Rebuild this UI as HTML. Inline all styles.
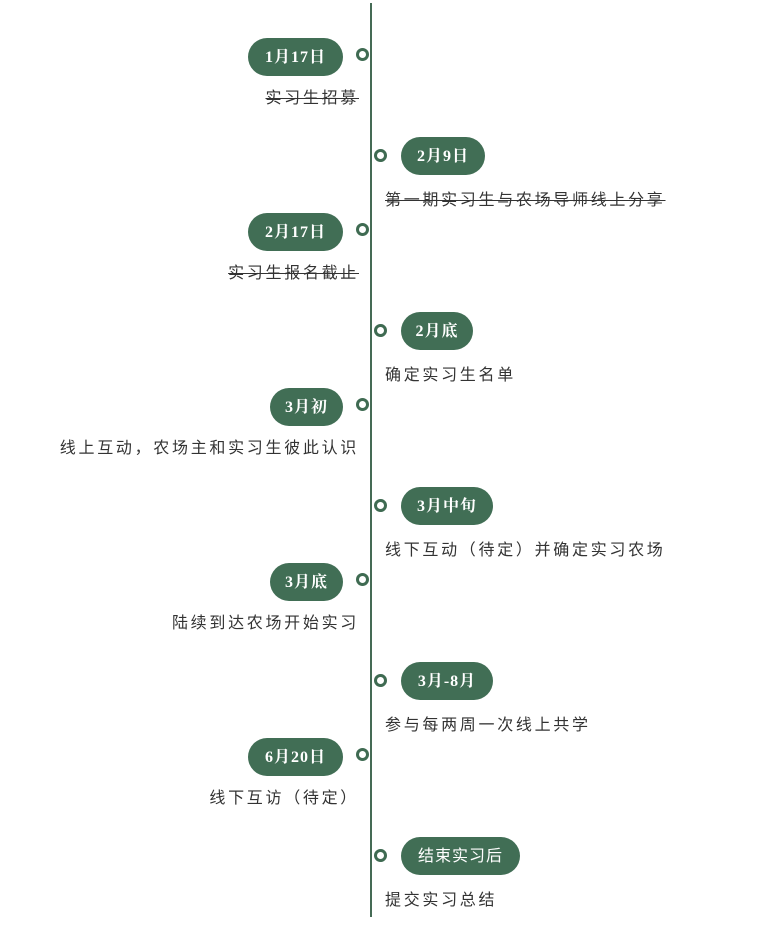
<!DOCTYPE html>
<html><head><meta charset="utf-8"><style>
body{margin:0;width:775px;height:932px;background:#fff;position:relative;overflow:hidden;font-family:"Liberation Sans","Noto Sans CJK SC",sans-serif}
.line{position:absolute;left:370px;top:3px;width:2px;height:914px;background:#456b55}
.dot{position:absolute;width:7px;height:7px;border:3.5px solid #3f6b52;border-radius:50%;background:#fff}
.pill{position:absolute;height:38px;line-height:40px;background:#416e55;color:#fff;border-radius:19px;text-align:center;font-family:"Liberation Serif","Noto Serif CJK SC",serif;font-weight:bold;font-size:16px;letter-spacing:1px}
.t{position:absolute;font-size:16px;color:#333;letter-spacing:2.7px;white-space:nowrap;line-height:20px}
.l{text-align:right;right:416px}
.r{left:385px}
.s{text-decoration:line-through}
</style></head><body>
<div class="line"></div>

<div class="pill" style="left:248px;top:38px;width:95px">1月17日</div>
<div class="dot" style="left:356px;top:48px"></div>
<div class="t l s" style="top:89px">实习生招募</div>

<div class="dot" style="left:374px;top:149px"></div>
<div class="pill" style="left:401px;top:137px;width:84px">2月9日</div>
<div class="t r s" style="top:191px">第一期实习生与农场导师线上分享</div>

<div class="pill" style="left:248px;top:213px;width:95px">2月17日</div>
<div class="dot" style="left:356px;top:223px"></div>
<div class="t l s" style="top:264px">实习生报名截止</div>

<div class="dot" style="left:374px;top:324px"></div>
<div class="pill" style="left:401px;top:312px;width:72px">2月底</div>
<div class="t r" style="top:366px">确定实习生名单</div>

<div class="pill" style="left:270px;top:388px;width:73px">3月初</div>
<div class="dot" style="left:356px;top:398px"></div>
<div class="t l" style="top:439px">线上互动，农场主和实习生彼此认识</div>

<div class="dot" style="left:374px;top:499px"></div>
<div class="pill" style="left:401px;top:487px;width:92px">3月中旬</div>
<div class="t r" style="top:541px">线下互动（待定）并确定实习农场</div>

<div class="pill" style="left:270px;top:563px;width:73px">3月底</div>
<div class="dot" style="left:356px;top:573px"></div>
<div class="t l" style="top:614px">陆续到达农场开始实习</div>

<div class="dot" style="left:374px;top:674px"></div>
<div class="pill" style="left:401px;top:662px;width:92px">3月-8月</div>
<div class="t r" style="top:716px">参与每两周一次线上共学</div>

<div class="pill" style="left:248px;top:738px;width:95px">6月20日</div>
<div class="dot" style="left:356px;top:748px"></div>
<div class="t l" style="top:789px">线下互访（待定）</div>

<div class="dot" style="left:374px;top:849px"></div>
<div class="pill" style="left:401px;top:837px;width:119px;font-family:'Liberation Sans','Noto Sans CJK SC',sans-serif;font-weight:normal">结束实习后</div>
<div class="t r" style="top:891px">提交实习总结</div>
</body></html>
